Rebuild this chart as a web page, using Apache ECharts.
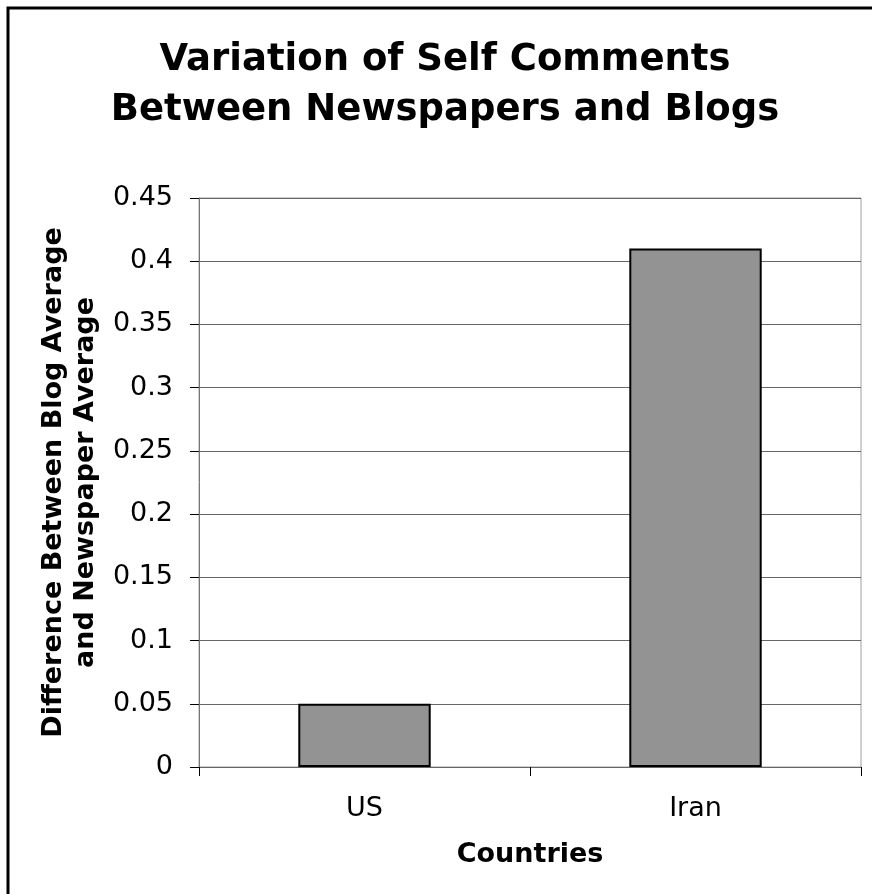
<!DOCTYPE html>
<html>
<head>
<meta charset="utf-8">
<script src="https://cdn.jsdelivr.net/npm/echarts@6/dist/echarts.min.js"></script>
<style>
  html, body { margin: 0; padding: 0; background: #fff; }
  #chart { width: 872px; height: 894px; }
</style>
</head>
<body>
<div id="chart"></div>
<script>
// Countries compared and the blog-minus-newspaper difference for each
const countries = ['US', 'Iran'];
const differences = [0.05, 0.41];
// Value axis range and step
const yMin = 0;
const yMax = 0.45;
const yStep = 0.05;

const FONT = '"DejaVu Sans", Verdana, sans-serif';

const chart = echarts.init(document.getElementById('chart'), null, { renderer: 'canvas' });

chart.setOption({
  backgroundColor: '#ffffff',
  animation: false,
  title: {
    text: 'Variation of Self Comments\nBetween Newspapers and Blogs',
    left: 440,
    top: 30,
    textAlign: 'center',
    textStyle: {
      fontFamily: FONT,
      fontWeight: 'bold',
      fontSize: 37,
      lineHeight: 50,
      color: '#000'
    }
  },
  graphic: [
    {
      type: 'rect',
      shape: { x: 8, y: 8, width: 900, height: 920 },
      style: { fill: 'none', stroke: '#000', lineWidth: 3 },
      silent: true
    }
  ],
  grid: {
    left: 199,
    right: 11,
    top: 198,
    bottom: 127,
    show: true,
    borderColor: '#a0a0a0',
    borderWidth: 1,
    backgroundColor: 'transparent'
  },
  xAxis: {
    type: 'category',
    data: countries,
    name: 'Countries',
    nameLocation: 'middle',
    nameGap: 74,
    nameTextStyle: {
      fontFamily: FONT,
      fontWeight: 'bold',
      fontSize: 27,
      color: '#000',
      verticalAlign: 'top'
    },
    axisLine: { lineStyle: { color: '#666', width: 1 } },
    axisTick: { show: true, length: 9, alignWithLabel: false, lineStyle: { color: '#000' } },
    axisLabel: {
      margin: 28,
      fontFamily: FONT,
      fontSize: 27,
      color: '#000'
    }
  },
  yAxis: {
    type: 'value',
    min: yMin,
    max: yMax,
    interval: yStep,
    name: 'Difference Between Blog Average\nand Newspaper Average',
    nameLocation: 'middle',
    nameRotate: 90,
    nameGap: 128,
    nameTextStyle: {
      fontFamily: FONT,
      fontWeight: 'bold',
      fontSize: 27,
      lineHeight: 32,
      color: '#000',
      align: 'center',
      verticalAlign: 'middle'
    },
    axisLine: { show: true, lineStyle: { color: '#777', width: 1 } },
    axisTick: { show: true, length: 9, lineStyle: { color: '#000' } },
    axisLabel: {
      margin: 26,
      fontFamily: FONT,
      fontSize: 27,
      color: '#000',
      formatter: v => String(+v.toFixed(2))
    },
    splitLine: { show: true, lineStyle: { color: '#666', width: 1 } }
  },
  series: [
    {
      type: 'bar',
      data: differences,
      barWidth: '40%',
      itemStyle: {
        color: '#939393',
        borderColor: '#000',
        borderWidth: 2
      }
    }
  ]
});
</script>
</body>
</html>
